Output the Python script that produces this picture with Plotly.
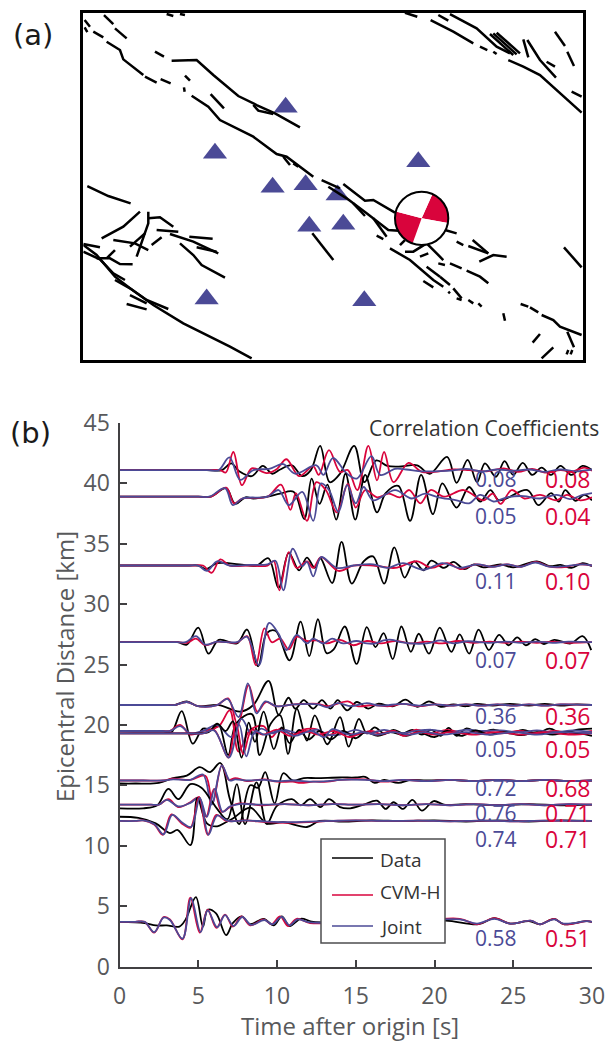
import plotly.graph_objects as go

BLACK = "#000000"
RED = "#d9043c"
BLUE = "#4b4a96"
GREY = "#414042"
TEXT = "#58595b"
FONT = "Open Sans"

# ---------- panel (a): map values, in map units ----------
STATION_X = [617, 405, 578, 677, 773, 688, 790, 1015, 380, 853]
STATION_Y = [292, 430, 532, 524, 555, 649, 643, 455, 867, 872]
MECHANISM_VALUES = [76, 100, 85, 99]

FAULTS = [
    [(72,15),(100,42)], [(105,55),(140,85)], [(14,30),(30,50)], [(14,52),(22,66)], [(40,65),(70,82)],
    [(80,95),(120,120),(130,148),(190,195)], [(195,200),(230,218)], [(242,207),(272,220)],
    [(225,125),(252,140)], [(275,152),(350,150),(400,195),(475,258),(530,285),(585,310),(660,352)],
    [(520,285),(535,302),(580,312)], [(315,197),(330,212)], [(312,232),(314,245)],
    [(392,252),(432,295)],
    [(335,257),(385,290),(420,330),(520,380),(590,432),(620,440),(700,500)],
    [(610,440),(630,465)], [(640,460),(655,470)], [(725,510),(780,535)], [(790,522),(855,572),(880,570),(945,608)],
    [(745,530),(800,565),(860,610),(925,660),(1000,665)], [(820,580),(855,618)],
    [(880,625),(920,680)], [(890,677),(910,687)],
    [(930,715),(990,750),(1060,810),(1090,830)], [(1030,813),(1060,832)], [(1040,770),(1080,800)],
    [(1080,800),(1110,825)], [(1120,835),(1145,865)], [(1105,845),(1110,850)],
    [(1130,865),(1145,870)], [(1165,870),(1180,880)], [(1195,880),(1205,890)],
    [(960,705),(975,690)], [(975,725),(1000,725),(1040,700),(1090,750)], [(1020,740),(1045,730)],
    [(1075,760),(1095,765)], [(1110,760),(1145,775)], [(1160,782),(1200,800),(1225,820)],
    [(1095,660),(1130,670)], [(1130,695),(1150,705)], [(1165,708),(1225,730)], [(1178,690),(1225,730)],
    [(1198,755),(1240,735),(1280,740)], [(697,670),(760,750)],
    [(22,528),(85,558),(152,580)],
    [(10,702),(60,712)], [(65,685),(130,650),(180,605)], [(205,605),(205,640),(170,740)],
    [(205,625),(240,622),(280,650)], [(80,745),(105,720)], [(150,710),(195,670)],
    [(100,690),(165,700),(205,720)], [(230,660),(295,665)], [(215,705),(245,682)],
    [(270,672),(340,695),(415,730)], [(328,680),(398,686)], [(350,712),(410,725)],
    [(300,700),(340,735),(365,765),(435,803)], [(10,725),(60,748),(100,790),(135,810)],
    [(50,745),(90,745),(120,762),(158,763)], [(10,705),(50,735),(105,800),(150,835),(200,870),(265,897)],
    [(105,810),(150,835),(220,885),(310,940),(450,1010),(515,1045)], [(140,882),(200,898)], [(150,855),(200,880)],
    [(1052,30),(1120,65),(1180,100)], [(1200,110),(1222,120)], [(1240,125),(1250,132)],
    [(1110,12),(1190,55),(1250,110),(1290,130)], [(1230,72),(1300,135)], [(1250,68),(1320,130)],
    [(1240,70),(1310,133)], [(1285,150),(1330,170),(1380,195),(1440,250),(1505,308)], [(1330,88),(1345,142)],
    [(1342,90),(1380,150),(1428,203)], [(1400,155),(1425,170)], [(1425,65),(1455,108)],
    [(1462,125),(1482,168)], [(1475,245),(1505,260)], [(975,8),(1012,20)], [(1075,15),(1105,32)],
    [(1452,712),(1505,772)], [(1322,882),(1345,890)], [(1350,892),(1375,907)],
    [(1385,915),(1420,930),(1440,950),(1505,975)], [(1270,910),(1275,932)], [(1358,998),(1380,972)],
    [(1385,1045),(1420,1012)], [(1462,965),(1482,1012)], [(1460,1033),(1465,1020)],
    [(1472,1033),(1477,1020)], [(260,12),(280,18)], [(300,12),(315,15)],
]

# ---------- panel (b): seismograms as (time s, offset km from baseline) extrema ----------
BASE_A = 41.1
DATA_A = [(0,0),(3,0),(5.5,0),(6.5,0),(7.1,.55),(7.6,-.1),(8.4,-.5),(9.1,.35),(9.7,-.3),(10.2,.05),(10.95,.4),(11.6,-.5),(12.15,0),(12.74,2.0),(13.35,-1.0),(14.0,-.3),(14.9,2.0),(15.55,-1.0),(16.3,.8),(17.0,.35),(17.9,.3),(18.9,.4),(19.7,-.3),(20.8,1.1),(21.4,-1.05),(22.1,.85),(22.7,-1.0),(23.2,.55),(23.9,-.55),(24.45,.75),(25.0,-.4),(25.6,.6),(26.2,-.4),(26.8,.2),(27.4,-.4),(28.0,.35),(28.7,-.4),(29.4,.35),(30,0)]
CVMH_A = [(0,0),(3,0),(5.6,0),(6.4,0),(6.75,-.2),(7.23,1.5),(7.77,-1.25),(8.4,.15),(9.35,-.25),(10.0,.1),(10.6,.9),(11.4,-.5),(12.3,.3),(12.65,-.4),(13.3,1.65),(14,-.15),(14.5,0),(15.1,-1.65),(15.8,2),(16.35,-.85),(16.8,1.5),(17.4,-1),(18.35,.6),(19.2,-.15),(20.3,-.1),(21.2,.05),(22.2,0),(23.3,-.1),(24.4,.15),(25.3,-.15),(26.2,.1),(27,-.2),(28,0),(28.8,-.1),(29.5,.2),(30,-.05)]
JOINT_A = [(0,0),(3,0),(5.6,0),(6.3,0),(6.98,1.05),(7.66,-.8),(8.5,0),(9.5,.1),(10.4,.5),(11.15,-.3),(12.5,.4),(12.95,-.4),(13.55,1),(14.44,-.3),(15.07,-.7),(16,1.15),(16.55,-.4),(17.5,.1),(18.2,.05),(19.2,-.1),(20,-.1),(21,-.05),(22,.1),(23,-.1),(24,.05),(25,-.05),(26,.05),(27,-.15),(28,.05),(29,-.1),(30,.05)]

BASE_B = 38.9
DATA_B = [(0,0),(3,0),(5,0),(5.8,0),(6.77,.7),(7.35,-.6),(8,-.05),(8.5,-.15),(9.4,0),(10.2,.25),(11.05,.4),(11.73,-1.85),(12.2,1.5),(12.7,-.6),(13.2,1),(13.76,-1.9),(14.35,1.9),(14.97,-1.9),(15.6,1.8),(16.35,-1.3),(16.9,.3),(17.7,.9),(18.45,-2),(19.15,1.8),(19.9,-1.45),(20.5,1.1),(21.4,-.9),(22.2,.8),(22.9,-.4),(23.55,.55),(24.1,-.3),(25.9,.55),(26.6,-.7),(27.4,.3),(27.9,-.4),(28.3,.55),(28.95,-.35),(29.5,.15),(30,-.3)]
CVMH_B = [(0,0),(3,0),(5,0),(5.8,0),(6.77,.75),(7.28,-.55),(7.8,-.15),(9.4,0),(10.25,1),(10.85,-1.1),(11.2,.3),(11.9,-2),(12.5,1.2),(13.1,.55),(13.8,-1.3),(14.5,1.05),(15,-.9),(15.6,.55),(16.35,-.05),(17.1,.25),(17.8,-.05),(18.4,.55),(19.1,-.55),(19.75,.55),(20.6,0),(21.85,.55),(23.1,-.3),(23.7,.25),(24.2,-.6),(24.9,.55),(25.7,-.15),(26.7,.15),(27.75,-.3),(28.4,.15),(29.25,-.3),(30,-.05)]
JOINT_B = [(0,0),(3,0),(5,0),(5.7,0),(6.7,.7),(7.2,-.7),(7.8,-.15),(9.4,0),(10.1,.55),(10.75,-.7),(11.6,.4),(12.3,-2),(12.8,1.1),(13.3,.55),(13.9,-1.25),(14.45,.95),(15,-.55),(15.5,.8),(16.1,-.3),(17.5,.55),(18.55,-.15),(19.4,.25),(20.25,-.05),(21.4,-.3),(22.2,-.55),(22.9,.15),(23.75,-.4),(24.6,-.05),(25.65,.05),(26.7,-.15),(27.75,.15),(28.6,-.2),(29.4,.15),(30,.3)]

BASE_C = 33.2
DATA_C = [(0,0),(3,0),(4.4,0),(5,0),(5.5,-.3),(6.2,.2),(7.6,.1),(8.7,0),(9.45,.6),(10.1,-1.85),(10.75,1.05),(11.4,-.4),(11.9,.65),(12.4,-.2),(12.75,.6),(13.5,-1.45),(14.1,1.95),(14.75,-1.5),(15.5,.35),(16.1,.75),(16.8,-1.5),(17.45,1.5),(18.1,-1),(18.7,.35),(19.3,-.4),(19.8,.4),(20.6,-.2),(21.2,.3),(21.9,-.3),(22.5,.1),(23.1,-.15),(24.2,.1),(25,-.15),(26.5,.35),(27.3,-.05),(28,.05),(28.7,-.2),(29.4,.2),(30,-.05)]
CVMH_C = [(0,0),(3,0),(4.7,0),(5.3,0),(5.85,-.6),(6.4,.5),(7,0),(8.2,0),(9.4,0),(9.8,.35),(10.15,-2.05),(10.75,1.1),(11.25,-.2),(11.9,.35),(12.3,-.2),(12.8,.7),(13.9,-.45),(14.85,0),(16.1,0),(17.5,-.2),(18.9,.35),(19.8,-.2),(20.8,.2),(21.7,-.3),(22.6,.1),(23.6,-.1),(24.6,.1),(25.5,-.1),(26.4,.3),(27.3,-.1),(28.4,-.1),(29.2,.1),(30,0)]
JOINT_C = [(0,0),(3,0),(4.4,0),(5,0),(5.55,-.45),(6.2,.35),(7,0),(8.2,.05),(9.4,.1),(9.9,.4),(10.4,-2.05),(11,1.4),(11.6,-.05),(11.9,.3),(12.3,-.9),(12.8,.7),(13.8,-.2),(14.85,0),(16.1,.1),(17,-.2),(18,.2),(19.3,-.35),(20.5,.2),(21.6,-.2),(22.7,.1),(23.7,-.1),(24.6,.1),(25.5,-.1),(26.4,.25),(27.3,-.1),(28.4,-.05),(29.4,.1),(30,0)]

BASE_D = 26.85
DATA_D = [(0,0),(2,0),(3.2,0),(3.7,0),(4.27,-.2),(5,1.2),(5.65,-.95),(6.3,.2),(7.45,-.1),(8.1,1.05),(8.8,-2),(9.35,.75),(9.9,.95),(10.8,-1.5),(11.5,1.7),(12.05,-1.15),(12.6,1.9),(13.15,-.9),(13.6,-.6),(14.3,1.3),(15.05,-1.8),(15.7,1.25),(16.25,-.4),(16.77,.75),(17.35,-1.4),(17.9,1.3),(18.5,-.8),(19,.7),(19.65,-.95),(20.33,1.2),(21.07,-.8),(21.6,.65),(22.2,-.95),(22.8,1.05),(23.45,-.65),(24.1,.6),(24.7,-.25),(25.25,.4),(25.8,-.25),(26.4,.25),(26.95,-.15),(27.6,.2),(28.65,-.1),(29.4,.5),(29.95,-.65)]
CVMH_D = [(0,0),(2,0),(3.7,0),(4.3,-.05),(4.85,.3),(5.45,-.25),(6.2,.05),(7.45,-.03),(8.1,.5),(8.65,-1.9),(9.2,1.15),(9.67,0),(10.2,.3),(10.75,-.6),(11.25,.45),(11.9,.1),(12.5,.15),(13.15,-.1),(14,.2),(14.85,-.25),(15.7,.1),(16.6,-.1),(17.5,.1),(18.5,-.1),(19.5,.05),(20.5,-.1),(21.5,.1),(22.5,-.05),(23.5,.05),(24.5,-.05),(25.5,.05),(26.5,-.05),(27.5,.05),(28.5,-.05),(30,0)]
JOINT_D = [(0,0),(2,0),(3.6,0),(4.2,0),(4.85,.5),(5.45,-.2),(6.2,.05),(7.45,0),(8.1,.45),(8.85,-1.9),(9.5,1.6),(10.1,.7),(10.6,-.65),(11.25,.6),(11.9,-.1),(12.3,.3),(12.95,-.1),(13.5,.3),(14.2,-.1),(15.05,.1),(15.7,-.1),(16.25,-.1),(16.77,.15),(17.3,.2),(17.85,0),(19.5,-.1),(20.4,.15),(21.2,-.1),(22.1,.08),(23.5,-.05),(24.5,.05),(25.5,-.05),(26.5,.05),(27.5,-.05),(28.5,.05),(30,0)]

BASE_E = 21.65
DATA_E = [(0,0),(2,0),(3,0),(3.5,0),(4.27,.3),(5,-.1),(6.3,0),(7.66,-.55),(8.5,0),(9.46,2),(10.1,-.8),(10.73,.6),(11.16,-.3),(11.7,.4),(12.3,-.3),(12.85,.4),(13.4,-.3),(13.85,.4),(14.45,-.45),(15.07,.25),(15.8,-.3),(16.4,.1),(17.4,-.1),(18.15,.45),(18.9,-.15),(19.65,.3),(20.4,-.15),(21.2,.05),(22,-.1),(22.7,.1),(23.7,-.05),(24.8,.1),(26,-.05),(27,.1),(28,-.05),(29,.05),(30,0)]
CVMH_E = [(0,0),(2,0),(3,0),(3.5,0),(4.27,.25),(5,-.1),(6.2,0),(6.9,.55),(7.5,-1.65),(8.2,1.65),(8.75,-.55),(9.3,.25),(9.95,-.1),(11.1,.05),(12.6,.1),(13.2,-.1),(14.5,.3),(15.1,-.1),(16.1,0),(17.1,-.1),(18,.1),(19,-.1),(20,.05),(21,-.05),(22,.05),(23,-.05),(24,.05),(25,-.05),(26,.05),(27,-.05),(28,.05),(30,0)]
JOINT_E = [(0,0),(2,0),(3,0),(3.5,0),(4.27,.25),(5,-.1),(6.2,0),(6.85,.5),(7.56,-1),(8.15,1.8),(8.7,-.7),(9.25,.3),(9.95,-.1),(11.1,.05),(12.6,.05),(13.2,-.2),(13.85,.15),(14.7,-.1),(15.7,.15),(16.5,-.05),(18,.1),(19,-.05),(20,.05),(21,-.05),(22,.05),(23,-.05),(24,.05),(25,-.05),(26,.05),(27,-.05),(28,.05),(30,0)]

BASE_F = 19.5
DATA_F = [(0,0),(1.5,-.05),(2.8,-.05),(3.3,-.1),(3.95,1.65),(4.65,-1.05),(5.3,.2),(5.9,.1),(6.3,.5),(6.9,-2),(7.4,.6),(8.4,1.4),(8.9,-2),(9.6,.6),(10.2,1.3),(10.7,-1.9),(11.26,1.85),(11.9,-.8),(12.4,1.3),(13.2,-1.1),(14,1.15),(14.55,-1.3),(15.2,1),(15.7,-.2),(16.2,.3),(16.8,-.2),(17.4,.1),(18,-.2),(18.6,.1),(19.2,-.3),(19.8,.1),(20.4,-.4),(20.9,.25),(21.4,-.4),(22,.2),(22.8,-.1),(23.8,.1),(24.8,-.2),(25.6,.1),(26.5,-.2),(27.3,.2),(28.1,-.2),(29,.1),(30,.2)]
CVMH_F = [(0,0),(1.5,0),(2.7,0),(3.2,0),(3.85,.5),(4.5,-.3),(5.3,0),(6.3,.4),(7,1.7),(7.55,-1.7),(8.3,.1),(9.15,.4),(9.65,-.5),(10.2,.2),(11,-.3),(11.6,.1),(12.6,.1),(13,-.4),(14,-.1),(15,-.3),(16,0),(16.7,-.3),(17.4,0),(18,-.3),(18.8,.1),(19.8,-.2),(20.8,.1),(22,-.2),(23,0),(24.2,-.2),(25.4,0),(26.5,-.2),(27.6,0),(28.8,-.2),(30,0)]
JOINT_F = [(0,0),(1.5,0),(2.7,0),(3.2,0),(3.85,.4),(4.5,-.2),(5.3,0),(6.2,.5),(7.1,-.5),(7.75,1),(8.4,-.3),(9,.2),(9.7,-.2),(10.4,.1),(11.4,-.2),(12.6,.1),(13.2,-.3),(14,-.3),(15,.1),(15.8,-.2),(16.8,.1),(17.8,-.2),(18.8,0),(19.8,.1),(21,-.1),(22,.1),(23,0),(24.2,.05),(25.4,-.1),(26.5,.05),(27.6,-.1),(28.8,.05),(30,-.1)]

BASE_G = 19.3
DATA_G = [(0,0),(2,0),(4.4,0),(5,0),(5.7,.15),(6.2,.8),(6.75,.2),(7.2,1),(7.75,-2),(8.2,.9),(8.6,-.7),(9.15,1.8),(9.8,-1.3),(10.3,.5),(10.8,-.8),(11.4,.3),(12,-.5),(12.7,.2),(13.4,-.5),(14.2,.2),(15,-.4),(15.6,.1),(16.4,-.2),(17.2,.1),(18.2,-.2),(19,.1),(20,-.3),(20.8,.2),(21.7,-.2),(22.6,.25),(23.5,-.1),(24.4,.1),(25.5,-.15),(26.5,.1),(27.5,-.1),(28.5,.1),(30,-.2)]
CVMH_G = [(0,0),(2,0),(4.6,0),(5.3,0),(6,.3),(6.9,-2),(7.4,.8),(7.85,-1.7),(8.4,.3),(9.1,-.1),(10,.3),(10.8,-.2),(11.8,.2),(12.6,-.1),(13.6,.2),(14.6,-.3),(15.5,.1),(16.4,-.1),(17.4,.2),(18,-.2),(19,.1),(20,-.1),(21,.1),(22.5,-.1),(24,.1),(25.5,-.1),(27,.1),(28.5,-.1),(30,0)]
JOINT_G = [(0,0),(2,0),(4.6,0),(5.3,0),(6,.25),(6.95,-2),(7.6,.7),(8.05,-1.9),(8.6,.2),(9.2,-.1),(10.3,.25),(11.1,-.2),(12.2,.2),(13,-.3),(13.5,.35),(14.6,-.1),(15.5,.1),(16.3,-.1),(17.4,.1),(18.4,-.1),(19.4,.1),(20.5,-.1),(22,.1),(23.5,-.1),(25,.1),(26.5,-.1),(28,.1),(30,0)]

BASE_H = 15.4
DATA_H = [(0,-.25),(1,-.25),(2.5,-.2),(3.4,.2),(4.27,.4),(5.1,1.1),(5.75,.7),(6.4,1.45),(7,-1.5),(7.6,-3.6),(8.3,-.4),(8.8,-.6),(9.25,.7),(9.85,-1.9),(10.4,.6),(11,0),(11.7,.2),(12.5,.2),(14,.25),(15,.25),(15.6,.3),(16.2,-.2),(16.8,.05),(17.7,-.2),(18.5,.05),(19.5,0),(21,.05),(22.5,-.05),(24,.05),(25.5,-.05),(27,.05),(28.5,-.05),(30,0)]
CVMH_H = [(0,0),(1.5,0),(2.8,0),(3.4,.15),(4.5,.05),(5.45,.4),(5.9,-1.9),(6.5,1.25),(6.95,.05),(7.35,.2),(8.1,-.05),(9.2,.1),(10,-.1),(11,-.1),(11.5,-.2),(12.3,-.1),(13.2,-.1),(14,.05),(15.6,.1),(16.8,-.1),(18,.05),(19.5,-.05),(21,.05),(22.5,-.05),(24,.05),(25.5,-.05),(27,.05),(28.5,-.05),(30,0)]
JOINT_H = [(0,0),(1.5,0),(2.8,0),(3.4,.1),(4.5,.05),(5.3,.5),(5.85,-2),(6.5,1.25),(7,.0),(7.35,.1),(8.1,0),(9.2,.05),(10,-.05),(11,0),(12.3,-.1),(13.2,-.05),(14,.05),(15.6,.05),(16.8,-.05),(18,.05),(19.5,-.05),(21,.05),(22.5,-.05),(24,.05),(25.5,-.05),(27,.05),(28.5,-.05),(30,0)]

BASE_I = 13.4
DATA_I = [(0,-.3),(1.5,-.3),(2.4,-.05),(3.1,1.3),(3.74,.45),(4.5,1.7),(5.2,1.4),(5.75,.5),(6.2,-.35),(6.85,-1.2),(7.45,1.7),(7.97,-1.6),(8.7,1.85),(9.35,-1.6),(10,-.1),(10.95,.45),(11.5,-.05),(12.1,.45),(12.75,-.2),(13.3,.45),(14,-.2),(14.65,-.3),(15.5,0),(16.35,.33),(16.9,-.35),(17.4,.2),(18,-.35),(18.6,.4),(19.2,-.5),(19.95,.3),(20.6,0),(22,.05),(24,-.05),(26,.05),(28,-.05),(30,0)]
CVMH_I = [(0,0),(1.5,0),(2,0),(2.5,0),(3.1,.45),(3.75,-.2),(4.5,.2),(5,.6),(5.5,-1),(6,1.3),(6.5,-.6),(7,-.2),(7.6,.1),(9,-.05),(10.5,.05),(12,-.05),(13.5,.05),(15,0),(16.5,.05),(18,-.05),(19.5,.05),(21,-.05),(22.5,.05),(24,-.05),(25.5,.05),(27,-.05),(28.5,.05),(30,0)]
JOINT_I = [(0,0),(1.5,0),(2,0),(2.5,0),(3,.4),(3.75,-.15),(4.5,.15),(5.05,.6),(5.55,-1),(6.05,1.3),(6.55,-.6),(7,-.15),(7.6,.05),(9,0),(10.5,.05),(12,-.05),(13.5,.05),(15,0),(16.5,.05),(18,-.05),(19.5,.05),(21,-.05),(22.5,.05),(24,-.05),(25.5,.05),(27,-.05),(28.5,.05),(30,0)]

BASE_J = 12.05
DATA_J = [(0,.35),(1.2,.25),(2.3,-.2),(3.2,-1),(3.7,-.75),(4.5,-2),(4.95,1.9),(5.55,-.2),(6.2,-.45),(6.7,-.15),(7.2,.2),(8.3,1.1),(9.35,-.2),(10.4,-.1),(11.9,-.5),(12.7,0),(14.2,-.05),(16,.05),(18,0),(20,.05),(22,-.05),(24,.05),(26,-.05),(28,.05),(30,0)]
CVMH_J = [(0,0),(1,0),(1.5,.05),(2.2,-.3),(2.75,-1.15),(3.3,.55),(3.95,-.2),(4.5,-.55),(5.05,2),(5.6,-1.15),(6.15,.5),(6.8,0),(8,.05),(9.35,-.1),(10.6,-.15),(12,-.1),(13.4,0),(15,.05),(17,0),(19,.03),(21,-.03),(23,.03),(25,-.03),(27,.03),(30,0)]
JOINT_J = [(0,0),(1,0),(1.5,.05),(2.2,-.25),(2.8,-1.1),(3.35,.5),(4,-.15),(4.55,-.5),(5.1,1.9),(5.65,-1.15),(6.2,.45),(6.9,0),(8,.05),(9.35,-.05),(10.6,-.1),(12,-.05),(13.4,0),(15,.05),(17,0),(19,.03),(21,-.03),(23,.03),(25,-.03),(27,.03),(30,0)]

BASE_K = 3.7
DATA_K = [(0,0),(1.6,-.1),(2.3,-.3),(3,-.3),(3.8,-.4),(4.2,.2),(4.85,2.05),(5.3,-.4),(5.6,1),(6.13,.7),(6.77,-1.1),(7.2,-.1),(7.75,.45),(8.3,-.2),(9.15,.25),(9.8,-.3),(10.3,.45),(10.8,-.35),(11.5,.25),(12.3,0),(15,0),(18,0),(20.7,.1),(22.8,-.2),(23.8,.3),(24.8,-.15),(26,.05),(26.7,-.2),(27.6,.25),(28.2,-.2),(29.6,.05),(30,0)]
CVMH_K = [(0,0),(1,0),(1.6,0),(2.2,-.9),(2.8,.4),(3.2,.2),(4,-1.45),(4.5,2),(5.1,-.9),(5.6,1),(6.15,-.5),(6.7,.6),(7.2,-.4),(7.75,.45),(8.3,-.3),(9.15,.2),(9.65,-.2),(10.2,.45),(10.7,-.35),(11.25,.25),(12.1,-.1),(15,0),(18,0),(21.6,.25),(22.7,-.2),(23.8,.3),(24.8,-.15),(26.1,.1),(26.7,-.2),(27.6,.25),(28.2,-.2),(29.7,.05),(30,0)]
JOINT_K = [(0,0),(1,0),(1.6,0),(2.2,-.85),(2.8,.35),(3.2,.15),(4,-1.4),(4.55,1.95),(5.15,-.85),(5.6,.95),(6.2,-.45),(6.7,.55),(7.25,-.35),(7.8,.4),(8.35,-.25),(9.2,.15),(9.7,-.2),(10.3,.4),(10.8,-.3),(11.3,.2),(12.1,-.05),(15,0),(18,0),(21.6,.2),(22.7,-.15),(23.8,.25),(24.8,-.15),(26.1,.1),(26.7,-.2),(27.6,.2),(28.2,-.15),(29.7,.05),(30,0)]

STATIONS = [
    (BASE_A, DATA_A, CVMH_A, JOINT_A), (BASE_B, DATA_B, CVMH_B, JOINT_B),
    (BASE_C, DATA_C, CVMH_C, JOINT_C), (BASE_D, DATA_D, CVMH_D, JOINT_D),
    (BASE_E, DATA_E, CVMH_E, JOINT_E), (BASE_F, DATA_F, CVMH_F, JOINT_F),
    (BASE_G, DATA_G, CVMH_G, JOINT_G), (BASE_H, DATA_H, CVMH_H, JOINT_H),
    (BASE_I, DATA_I, CVMH_I, JOINT_I), (BASE_J, DATA_J, CVMH_J, JOINT_J),
    (BASE_K, DATA_K, CVMH_K, JOINT_K),
]

CC_JOINT = ["0.08", "0.05", "0.11", "0.07", "0.36", "0.05", "0.72", "0.76", "0.74", "0.58"]
CC_CVMH = ["0.08", "0.04", "0.10", "0.07", "0.36", "0.05", "0.68", "0.71", "0.71", "0.51"]
CC_Y = [40.4, 37.3, 31.9, 25.4, 20.75, 18.0, 14.8, 12.7, 10.55, 2.36]
X_TICKS = [0, 5, 10, 15, 20, 25, 30]
Y_TICKS = [0, 5, 10, 15, 20, 25, 30, 35, 40, 45]

W, H = 610, 1042
def px(x): return x / W
def py(y): return 1 - y / H

fig = go.Figure()

# seismograms
for base, data, cvmh, joint in STATIONS:
    for series, colour, width in ((data, BLACK, 1.8), (cvmh, RED, 1.8), (joint, BLUE, 1.8)):
        fig.add_trace(go.Scatter(
            x=[p[0] for p in series], y=[base + p[1] for p in series], mode="lines",
            line=dict(color=colour, width=width, shape="spline", smoothing=1.0),
            xaxis="x", yaxis="y", showlegend=False, hoverinfo="skip"))

# stations then faults
fig.add_trace(go.Scatter(x=STATION_X, y=STATION_Y, mode="markers", xaxis="x2", yaxis="y2",
                         marker=dict(symbol="triangle-up", size=21, color=BLUE),
                         showlegend=False, hoverinfo="skip"))
fx, fy = [], []
for f in FAULTS:
    fx += [p[0] for p in f] + [None]
    fy += [p[1] for p in f] + [None]
fig.add_trace(go.Scatter(x=fx, y=fy, mode="lines", xaxis="x2", yaxis="y2",
                         line=dict(color=BLACK, width=2.5), showlegend=False, hoverinfo="skip"))

# focal mechanism
fig.add_trace(go.Pie(values=MECHANISM_VALUES, sort=False, direction="clockwise", rotation=24,
                     marker=dict(colors=[RED, "#ffffff", RED, "#ffffff"], line=dict(width=0)),
                     textinfo="none", hoverinfo="skip", showlegend=False,
                     domain=dict(x=[px(395), px(448.3)], y=[py(245), py(191.7)])))

shapes = [
    dict(type="circle", xref="x2", yref="y2", x0=945, x1=1105, y0=545, y1=705,
         line=dict(color=BLACK, width=2), layer="above"),
    dict(type="rect", xref="paper", yref="paper", x0=px(321), x1=px(445), y0=py(839), y1=py(943),
         fillcolor="white", line=dict(color="#4d4d4f", width=1.5), layer="above"),
]
LEGEND_NAMES = ["Data", "CVM-H", "Joint"]
LEGEND_COLOURS = [BLACK, RED, BLUE]
LEGEND_LINE_Y = [858, 895, 926]
LEGEND_TEXT_Y = [860, 892, 927]
annotations = []
for n, c, ly, ty in zip(LEGEND_NAMES, LEGEND_COLOURS, LEGEND_LINE_Y, LEGEND_TEXT_Y):
    shapes.append(dict(type="line", xref="paper", yref="paper", x0=px(332), x1=px(373),
                       y0=py(ly), y1=py(ly), line=dict(color=c, width=1.7), layer="above"))
    annotations.append(dict(text=n, xref="paper", yref="paper", x=px(378), y=py(ty), xanchor="left",
                            yanchor="middle", showarrow=False, font=dict(family=FONT, size=19, color="#333333")))

for lab_b, lab_r, y in zip(CC_JOINT, CC_CVMH, CC_Y):
    annotations.append(dict(text=lab_b, xref="paper", yref="y", x=px(519), y=y, xanchor="right", yanchor="middle",
                            showarrow=False, font=dict(family=FONT, size=21, color=BLUE)))
    annotations.append(dict(text=lab_r, xref="paper", yref="y", x=px(593), y=y, xanchor="right", yanchor="middle",
                            showarrow=False, font=dict(family=FONT, size=23, color=RED)))

annotations += [
    dict(text="Correlation Coefficients", xref="paper", yref="paper", x=px(601), y=py(428), xanchor="right",
         yanchor="middle", showarrow=False, font=dict(family=FONT, size=21, color="#333333")),
    dict(text="(a)", xref="paper", yref="paper", x=px(11), y=py(35), xanchor="left", yanchor="middle",
         showarrow=False, font=dict(family="DejaVu Sans", size=29, color="#1a1a1a")),
    dict(text="(b)", xref="paper", yref="paper", x=px(8), y=py(433), xanchor="left", yanchor="middle",
         showarrow=False, font=dict(family="DejaVu Sans", size=29, color="#1a1a1a")),
    dict(text="Time after origin [s]", xref="paper", yref="paper", x=px(350), y=py(1025), xanchor="center",
         yanchor="middle", showarrow=False, font=dict(family=FONT, size=24, color=TEXT)),
    dict(text="Epicentral Distance [km]", xref="paper", yref="paper", x=px(64), y=py(667), xanchor="center",
         yanchor="middle", textangle=-90, showarrow=False, font=dict(family=FONT, size=24, color=TEXT)),
]

fig.update_layout(
    width=W, height=H, margin=dict(l=0, r=0, t=0, b=0), paper_bgcolor="white", plot_bgcolor="white",
    showlegend=False, shapes=shapes, annotations=annotations,
    xaxis=dict(domain=[px(119.5), px(592)], range=[0, 30], tickvals=X_TICKS, ticks="inside", ticklen=7,
               tickwidth=1.5, tickcolor=GREY, showline=True, linecolor=GREY, linewidth=2, showgrid=False,
               zeroline=False, anchor="y", automargin=False, ticklabelstandoff=8,
               tickfont=dict(family=FONT, size=23, color=TEXT)),
    yaxis=dict(domain=[py(966.5), py(423)], range=[0, 45], tickvals=Y_TICKS, ticks="inside", ticklen=7,
               tickwidth=1.5, tickcolor=GREY, showline=True, linecolor=GREY, linewidth=2, showgrid=False,
               zeroline=False, anchor="x", automargin=False, ticklabelstandoff=3,
               tickfont=dict(family=FONT, size=23, color=TEXT)),
    xaxis2=dict(domain=[px(83.3), px(583.3)], range=[10, 1510], visible=True, showticklabels=False, ticks="",
                showline=True, mirror=True, linecolor=BLACK, linewidth=3, showgrid=False, zeroline=False,
                anchor="y2", automargin=False),
    yaxis2=dict(domain=[py(360), py(12.7)], range=[1050, 8], visible=True, showticklabels=False, ticks="",
                showline=True, mirror=True, linecolor=BLACK, linewidth=3, showgrid=False, zeroline=False,
                anchor="x2", automargin=False),
)

fig.write_html("out.html", config=dict(displayModeBar=False),
               post_script="document.body.style.margin='0';")
